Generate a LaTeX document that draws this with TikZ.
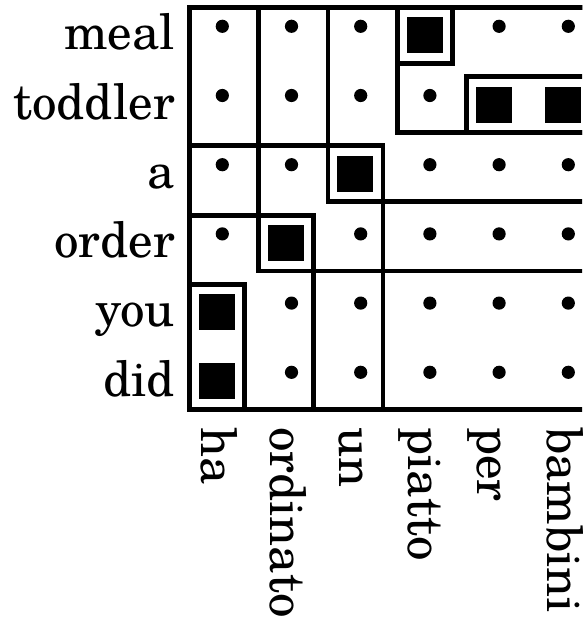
\documentclass[tikz,border=0pt]{standalone}
\usepackage{fontspec}
\setmainfont{TeX Gyre Schola}
\tikzset{
  blk/.style={draw=black, line width=4.8pt, line join=miter},
  dotmark/.style={circle, fill=black, inner sep=0pt, minimum size=13.2pt},
  sqmark/.style={rectangle, fill=black, inner sep=0pt, minimum size=36pt},
  rowlab/.style={anchor=base east, inner sep=0pt, font=\fontsize{49}{52}\selectfont},
  collab/.style={rotate=-90, anchor=base west, inner sep=0pt, font=\fontsize{49}{52}\selectfont}
}
\expandafter\def\csname isq15\endcsname{}
\expandafter\def\csname isq16\endcsname{}
\expandafter\def\csname isq24\endcsname{}
\expandafter\def\csname isq33\endcsname{}
\expandafter\def\csname isq41\endcsname{}
\expandafter\def\csname isq52\endcsname{}
\expandafter\def\csname isq62\endcsname{}
\begin{document}
\begin{tikzpicture}[x=1pt,y=-1pt]
\useasboundingbox (0,0) rectangle (582,620);
\clip (0,0) rectangle (582,620);
% cell box corners
\foreach \c in {1,...,6}{
  \foreach \r in {1,...,6}{
    \coordinate (nw\c\r) at ({189.5+69.2*(\c-1)},{7.5+69.2*(\r-1)});
    \coordinate (se\c\r) at ({244.5+69.2*(\c-1)},{63.3+69.2*(\r-1)});
  }
}
% cell marks
\foreach \c in {1,...,6}{
  \foreach \r in {1,...,6}{
    \ifcsname isq\c\r\endcsname
      \node[sqmark] (m\c\r) at ({217+69.2*(\c-1)},{35.4+69.2*(\r-1)}) {};
    \else
      \node[dotmark] (m\c\r) at ({222.3+69.2*(\c-1)},{26.3+69.2*(\r-1)}) {};
    \fi
  }
}
% blocks
\draw[blk] (nw11) rectangle (se66);
\draw[blk] (nw15) rectangle (se16);
\draw[blk] (nw14) rectangle (se26);
\draw[blk] (nw13) rectangle (se36);
\draw[blk] (nw24) rectangle (se24);
\draw[blk] (nw33) rectangle (se33);
\draw[blk] (nw41) rectangle (se41);
\draw[blk] (nw52) rectangle (se62);
\draw[blk] (nw41) rectangle (se62);
\draw[blk] (nw31) rectangle (se63);
\draw[blk] (nw21) rectangle (se64);
% row labels
\node[rowlab] (r1) at (175,50) {meal};
\node[rowlab] (r2) at (175,119.2) {toddler};
\node[rowlab] (r3) at (175,188.4) {a};
\node[rowlab] (r4) at (175,257.6) {order};
\node[rowlab] (r5) at (175,326.8) {you};
\node[rowlab] (r6) at (175,396) {did};
% column labels
\node[collab] (k1) at (201.1,427) {ha};
\node[collab] (k2) at (270.3,427) {ordinato};
\node[collab] (k3) at (339.5,427) {un};
\node[collab] (k4) at (408.7,427) {piatto};
\node[collab] (k5) at (477.9,427) {per};
\node[collab] (k6) at (547.1,427) {bambini};
\end{tikzpicture}
\end{document}
